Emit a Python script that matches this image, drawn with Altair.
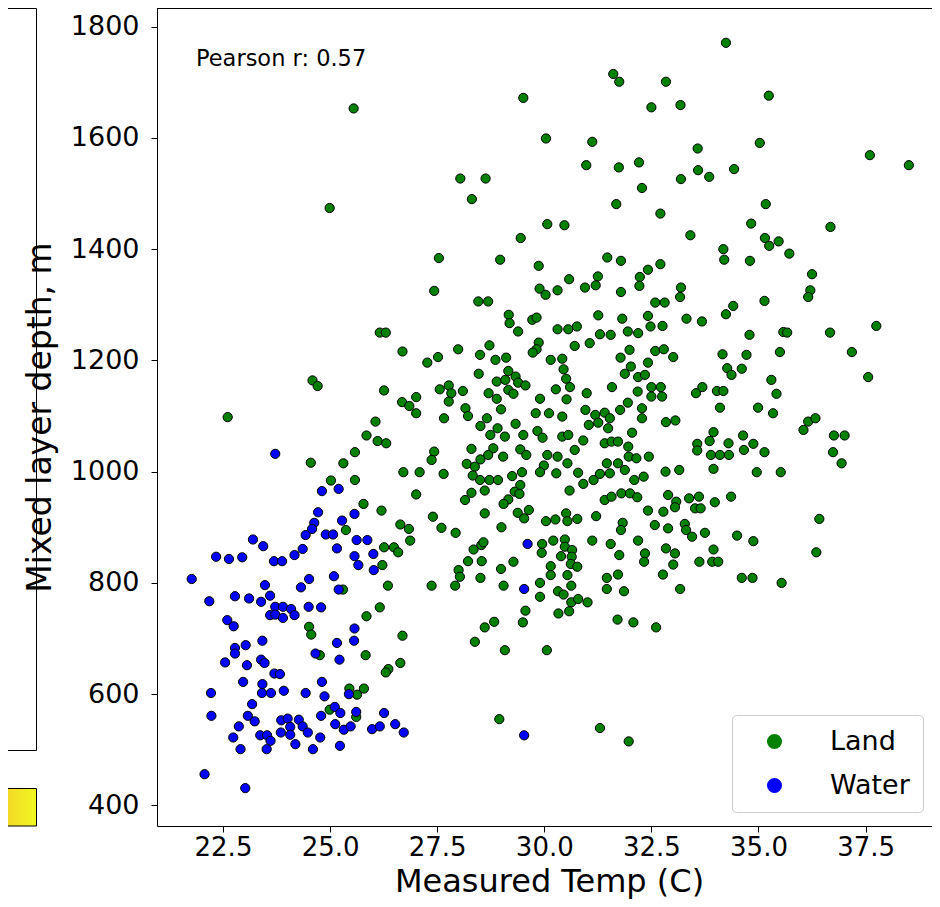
import altair as alt
import pandas as pd

series_names = ["Land", "Water"]
series_colors = ["#008000", "#0000ff"]
x_ticks = [22.5, 25.0, 27.5, 30.0, 32.5, 35.0, 37.5]
y_ticks = [400, 600, 800, 1000, 1200, 1400, 1600, 1800]
x_title = "Measured Temp (C)"
y_title = "Mixed layer depth, m"
pearson_label = "Pearson r: 0.57"

# (Measured Temp, Mixed layer depth)
land_upper = [
    (25.55, 1653), (24.99, 1474), (28.04, 1527), (28.63, 1527), (28.31, 1490), (27.54, 1384),
    (27.43, 1325), (34.24, 1771), (31.61, 1715), (31.75, 1701), (32.84, 1701), (29.51, 1672),
    (32.50, 1655), (33.18, 1659), (35.24, 1676), (30.04, 1599), (31.12, 1593), (33.58, 1581),
    (35.03, 1591), (37.60, 1569), (38.51, 1551), (30.98, 1551), (31.74, 1547), (32.21, 1556),
    (33.59, 1542), (33.85, 1530), (34.43, 1544), (33.19, 1526), (32.28, 1510), (31.68, 1481),
    (32.71, 1464), (35.17, 1481), (30.07, 1445), (30.47, 1443), (34.83, 1446), (36.68, 1440),
    (29.45, 1420), (33.41, 1425), (35.15, 1420), (35.47, 1414), (35.25, 1406), (34.18, 1400),
    (35.72, 1392), (34.20, 1381), (34.80, 1379), (28.97, 1381), (29.87, 1370), (31.47, 1385),
    (31.79, 1379), (32.71, 1373), (36.25, 1355), (30.58, 1346), (31.25, 1351), (31.20, 1335),
    (30.95, 1331), (29.89, 1329), (30.31, 1326), (30.03, 1318), (32.23, 1350), (32.42, 1363),
    (32.22, 1334), (31.79, 1323), (33.19, 1331), (36.21, 1326), (36.16, 1314), (33.17, 1314),
]

land_west = [
    (26.16, 1250), (26.30, 1250), (26.69, 1216), (24.59, 1164), (24.71, 1154), (26.26, 1146),
    (26.68, 1125), (27.01, 1134), (27.01, 1105), (22.61, 1098), (26.06, 1090), (25.85, 1065),
    (26.11, 1055), (26.31, 1051), (25.58, 1035), (24.55, 1016), (25.31, 1015), (26.71, 999),
    (27.09, 999), (25.02, 984), (25.58, 985), (27.01, 959), (25.78, 942), (26.20, 930),
    (26.64, 905), (26.84, 897), (25.37, 895), (26.26, 864), (26.49, 864), (26.59, 855),
    (26.22, 832), (26.35, 795), (25.30, 788), (26.16, 756), (25.85, 740), (24.51, 721),
    (24.56, 707), (26.69, 705), (24.76, 670), (25.83, 670), (26.64, 656), (26.36, 645),
    (26.30, 639), (25.45, 610), (25.63, 599), (25.79, 610), (24.99, 572), (25.61, 559),
]

land_core = [
    (28.46, 1306), (28.69, 1306), (32.59, 1304), (32.81, 1304), (35.14, 1307), (29.17, 1282),
    (29.19, 1267), (29.72, 1273), (29.82, 1277), (31.26, 1281), (31.82, 1275), (32.42, 1280),
    (30.31, 1256), (30.56, 1256), (30.76, 1261), (29.39, 1252), (31.30, 1247), (31.55, 1246),
    (31.95, 1252), (32.19, 1249), (32.48, 1261), (32.76, 1262), (27.99, 1220), (28.72, 1227),
    (29.87, 1232), (29.82, 1220), (29.73, 1214), (30.71, 1226), (31.06, 1231), (31.99, 1219),
    (32.59, 1217), (32.79, 1220), (33.01, 1206), (27.27, 1196), (27.52, 1206), (28.50, 1210),
    (28.86, 1201), (29.11, 1205), (30.15, 1201), (30.42, 1203), (31.78, 1205), (32.42, 1196),
    (31.88, 1176), (32.02, 1189), (30.45, 1184), (29.16, 1181), (29.33, 1171), (29.39, 1160),
    (29.56, 1155), (28.47, 1176), (28.89, 1162), (29.09, 1165), (30.51, 1167), (30.60, 1152),
    (32.19, 1170), (32.35, 1174), (31.58, 1152), (27.56, 1148), (27.77, 1155), (27.83, 1141),
    (28.10, 1145), (28.70, 1141), (28.89, 1131), (29.16, 1147), (29.28, 1140), (30.27, 1148),
    (30.99, 1141), (30.52, 1130), (32.18, 1144), (32.50, 1152), (32.72, 1152), (32.75, 1135),
    (32.50, 1135), (26.85, 1118), (27.77, 1126), (29.90, 1131), (28.16, 1114), (28.22, 1100),
    (28.99, 1112), (29.80, 1105), (30.11, 1105), (30.42, 1099), (30.96, 1111), (31.19, 1102),
    (31.41, 1106), (31.53, 1096), (31.77, 1111), (31.95, 1124), (32.28, 1114), (32.28, 1096),
    (32.84, 1089), (33.06, 1092), (27.66, 1096), (28.66, 1096), (28.51, 1082), (29.33, 1086),
    (31.04, 1084), (31.26, 1088), (31.49, 1078), (28.74, 1066), (28.91, 1078), (29.08, 1063),
    (29.51, 1066), (29.84, 1073), (29.96, 1061), (30.42, 1063), (30.56, 1066), (30.91, 1056),
    (31.41, 1051), (31.57, 1054), (31.72, 1054), (32.05, 1070), (31.96, 1045), (27.43, 1036),
    (27.37, 1021), (28.30, 1041), (28.81, 1042), (29.44, 1040), (29.58, 1030), (30.71, 1039),
    (29.04, 1027), (30.07, 1030), (30.31, 1027), (30.54, 1015), (28.51, 1022), (28.69, 1030),
    (31.97, 1027), (32.15, 1024), (32.44, 1027), (28.19, 1014), (28.38, 1009), (29.99, 1011),
    (29.90, 999), (31.46, 1015), (31.72, 1015), (31.88, 1003), (27.65, 996), (28.50, 985),
    (28.72, 985), (28.92, 985), (29.25, 992), (29.48, 999), (30.28, 997), (30.79, 998),
    (31.15, 985), (31.30, 996), (31.53, 997), (30.91, 978), (32.10, 985), (32.32, 991),
    (32.83, 1000), (33.15, 1003), (28.33, 993), (29.44, 976), (29.31, 964), (29.42, 960),
    (28.30, 962), (28.61, 966), (30.59, 966), (31.41, 949), (31.57, 955), (31.80, 961),
    (32.00, 961), (32.17, 954), (28.15, 949), (29.16, 950), (29.05, 942), (32.89, 958),
    (33.08, 946), (28.61, 925), (29.38, 926), (29.53, 916), (29.64, 931), (29.00, 900),
    (27.40, 919), (27.60, 899), (27.93, 890), (30.04, 911), (30.26, 914), (30.51, 925),
    (30.54, 911), (30.77, 915), (31.21, 920), (32.42, 930), (32.78, 928), (33.05, 936),
    (31.83, 908), (31.79, 895), (32.58, 904), (32.89, 898), (26.87, 876), (28.35, 860),
    (28.53, 868), (28.58, 873), (29.95, 870), (30.21, 876), (30.48, 878), (30.48, 865),
    (30.65, 859), (31.12, 876), (31.55, 870), (32.19, 876), (31.75, 850), (32.35, 853),
    (32.84, 862), (33.05, 853), (29.94, 854), (30.39, 848), (30.64, 847),
]

land_south = [
    (28.22, 839), (28.54, 839), (28.00, 823), (28.03, 811), (27.37, 795), (27.92, 795),
    (28.51, 809), (28.99, 825), (29.05, 795), (29.28, 838), (29.90, 800), (29.90, 775),
    (30.15, 830), (30.15, 814), (30.32, 785), (30.45, 779), (30.54, 814), (30.63, 795),
    (30.62, 834), (30.77, 829), (30.63, 765), (30.79, 771), (31.01, 765), (30.58, 749),
    (30.33, 745), (29.56, 750), (29.50, 729), (28.83, 730), (28.61, 720), (28.38, 694),
    (29.08, 679), (30.06, 679), (31.46, 809), (31.72, 815), (31.46, 789), (31.86, 785),
    (31.71, 734), (32.08, 729), (32.61, 720), (32.33, 838), (32.77, 815), (33.01, 833),
    (33.17, 789), (28.95, 555), (31.30, 539), (31.97, 515),
]

land_east = [
    (34.41, 1298), (34.24, 1283), (33.32, 1275), (33.68, 1270), (34.79, 1246), (35.58, 1251),
    (35.67, 1250), (36.67, 1250), (37.75, 1262), (34.16, 1211), (34.72, 1210), (35.50, 1215),
    (37.18, 1215), (34.27, 1186), (34.37, 1174), (34.61, 1185), (37.56, 1170), (35.30, 1165),
    (33.54, 1141), (33.69, 1152), (34.03, 1145), (34.18, 1145), (35.42, 1140), (34.10, 1115),
    (34.99, 1115), (35.34, 1105), (36.16, 1090), (36.33, 1096), (36.05, 1075), (33.95, 1071),
    (33.86, 1055), (33.57, 1050), (33.57, 1038), (34.30, 1051), (34.64, 1065), (34.88, 1050),
    (34.66, 1039), (35.14, 1035), (33.89, 1030), (34.10, 1030), (34.31, 1030), (36.76, 1065),
    (37.01, 1065), (36.74, 1035), (36.94, 1015), (33.95, 1005), (34.96, 999), (35.52, 999),
    (33.38, 952), (33.61, 955), (33.52, 934), (33.65, 934), (33.98, 945), (34.36, 955),
    (33.28, 906), (33.31, 895), (33.45, 883), (33.75, 890), (34.50, 885), (34.88, 875),
    (36.42, 915), (36.35, 855), (33.95, 860), (33.62, 838), (33.92, 838), (34.06, 838),
    (34.61, 809), (34.86, 809), (35.54, 800),
]

water = [
    (23.72, 1032), (24.81, 965), (25.20, 969), (24.72, 927), (25.57, 924), (24.63, 908),
    (25.28, 912), (24.58, 897), (24.43, 886), (24.90, 887), (25.07, 887), (23.20, 878),
    (23.44, 866), (25.62, 877), (25.87, 877), (24.36, 861), (25.16, 862), (26.01, 852),
    (24.17, 850), (22.34, 847), (22.64, 843), (22.95, 846), (25.57, 848), (23.69, 839),
    (23.88, 839), (25.66, 832), (26.02, 823), (21.77, 807), (23.48, 796), (24.51, 807),
    (24.32, 792), (25.09, 812), (25.20, 788), (22.18, 767), (22.78, 776), (23.11, 772),
    (23.39, 766), (23.60, 777), (23.72, 757), (23.90, 757), (24.09, 753), (23.60, 742),
    (23.72, 743), (23.90, 737), (24.17, 742), (24.50, 757), (24.79, 756), (22.60, 733),
    (22.75, 722), (25.57, 718), (25.56, 696), (23.42, 696), (25.16, 692), (22.78, 683),
    (23.03, 688), (22.78, 673), (24.66, 673), (25.22, 662), (22.55, 657), (23.06, 652),
    (23.39, 662), (23.47, 656), (23.70, 637), (23.83, 636), (22.97, 622), (24.81, 622),
    (23.42, 618), (25.44, 600), (22.22, 602), (23.41, 602), (23.62, 602), (23.92, 606),
    (24.43, 602), (24.87, 596), (23.18, 582), (22.23, 561), (23.08, 561), (23.24, 551),
    (24.79, 561), (25.11, 577), (25.24, 566), (25.61, 568), (26.26, 566), (23.86, 553),
    (24.01, 556), (24.27, 554), (24.07, 541), (24.36, 542), (24.48, 531), (23.85, 531),
    (24.07, 527), (25.12, 546), (25.32, 536), (25.48, 542), (25.98, 537), (26.16, 542),
    (26.52, 546), (26.72, 531), (22.87, 542), (22.74, 522), (23.37, 526), (23.53, 526),
    (23.61, 516), (24.77, 522), (22.91, 501), (23.52, 501), (24.19, 510), (24.60, 501),
    (25.23, 507), (22.07, 456), (23.02, 431), (29.61, 870), (29.53, 789), (29.53, 526),
]

rows = []
for t, d in land_upper + land_west + land_core + land_south + land_east:
    rows.append({"temp": t, "depth": d, "type": series_names[0]})
for t, d in water:
    rows.append({"temp": t, "depth": d, "type": series_names[1]})
df = pd.DataFrame(rows)

W, H = 775, 818
FONT = "DejaVu Sans"
one = alt.Data(values=[{"k": 1}])

points = alt.Chart(df).mark_circle(
    size=85, opacity=1, stroke="black", strokeWidth=1
).encode(
    x=alt.X(
        "temp:Q",
        scale=alt.Scale(domain=[20.96, 39.05], nice=False, zero=False),
        axis=alt.Axis(
            values=x_ticks, format=".1f", title=x_title, grid=False,
            labelFontSize=26, labelFont=FONT, labelColor="black", labelFlush=False,
            tickSize=6, tickColor="black", labelPadding=2,
            domainColor="black", domainWidth=1,
            titleFontSize=32, titleFont=FONT, titleFontWeight="normal", titleColor="black",
            titleX=392, titleY=65, titleBaseline="alphabetic", titleAlign="center",
        ),
    ),
    y=alt.Y(
        "depth:Q",
        scale=alt.Scale(domain=[362.9, 1833.6], nice=False, zero=False),
        axis=alt.Axis(
            values=y_ticks, format="d", title=y_title, grid=False,
            labelFontSize=27, labelFont=FONT, labelColor="black", labelFlush=False,
            tickSize=6, tickColor="black", labelPadding=12,
            domainColor="black", domainWidth=1,
            titleFontSize=33, titleFont=FONT, titleFontWeight="normal", titleColor="black",
            titleAngle=270, titleX=-107, titleY=409, titleBaseline="alphabetic", titleAlign="center",
        ),
    ),
    color=alt.Color(
        "type:N",
        scale=alt.Scale(domain=series_names, range=series_colors),
        legend=alt.Legend(
            title=None, orient="none", legendX=575, legendY=707,
            symbolType="circle", symbolSize=227, symbolStrokeWidth=0, symbolOpacity=1,
            labelFontSize=27, labelFont=FONT, labelColor="black",
            labelOffset=42, symbolOffset=16, padding=13, rowPadding=16,
            fillColor="white", strokeColor="#cccccc", cornerRadius=4,
        ),
    ),
)

frame_top = alt.Chart(one).mark_rule(color="black", strokeWidth=1).encode(
    x=alt.value(0), x2=alt.value(W), y=alt.value(0.5)
)

side_box = alt.Chart(one).mark_rect(fillOpacity=0, stroke="black", strokeWidth=1).encode(
    x=alt.value(-170), x2=alt.value(-120.5), y=alt.value(0.5), y2=alt.value(742.5)
)

grad = alt.LinearGradient(
    gradient="linear",
    stops=[alt.GradientStop(color="#f7c02b", offset=0), alt.GradientStop(color="#f0f921", offset=1)],
    x1=0, x2=1, y1=0, y2=0,
)
cbar = alt.Chart(one).mark_rect(fill=grad, stroke="black", strokeWidth=1).encode(
    x=alt.value(-170), x2=alt.value(-120.5), y=alt.value(780.5), y2=alt.value(818)
)

note = alt.Chart(alt.Data(values=[{"t": pearson_label}])).mark_text(
    align="left", baseline="alphabetic", fontSize=22.5, font=FONT, color="black"
).encode(x=alt.value(39), y=alt.value(58), text="t:N")

chart = alt.layer(side_box, cbar, points, frame_top, note).properties(
    width=W, height=H,
    autosize=alt.AutoSizeParams(type="none"),
    padding={"left": 149, "top": 0, "right": 0, "bottom": 73},
).configure(font=FONT).configure_view(stroke=None)

chart.save("out.html", embed_options={"renderer": "svg", "actions": False})
